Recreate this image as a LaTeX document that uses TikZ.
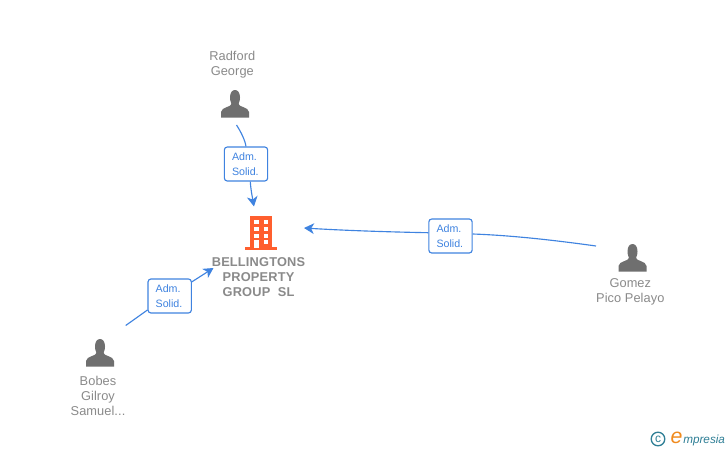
\documentclass[tikz,border=0pt]{standalone}
\usepackage{fontspec}
\setmainfont{Liberation Sans}
\newfontfamily\spaced[LetterSpace=0.6]{Liberation Sans}
\newfontfamily\spacedb[LetterSpace=1.4]{Liberation Sans}
\newfontfamily\logofont{Liberation Sans}
\definecolor{linkblue}{HTML}{3F83E0}
\definecolor{txtgray}{HTML}{8A8A8A}
\definecolor{icongray}{HTML}{6F6F6F}
\definecolor{bldorange}{HTML}{FF5F2E}
\definecolor{logoteal}{HTML}{2F7F96}
\definecolor{logoorange}{HTML}{F08A1D}
\usetikzlibrary{arrows.meta}
\tikzset{
  x=0.75pt,y=-0.75pt,
  edgeline/.style={draw=linkblue,line width=0.85pt},
  arrowline/.style={edgeline,-{Stealth[length=7.5pt,width=8pt,inset=2.2pt]}},
  rolebox/.style={draw=linkblue,fill=white,rounded corners=2.2pt,line width=0.85pt,minimum width=32.5pt,minimum height=25.5pt,inner sep=0pt,text width=21pt,align=left,text=linkblue,font=\fontsize{8}{11.2}\selectfont},
  person/.style={text=txtgray,align=center,inner sep=0pt,font=\fontsize{9.6}{11.3}\selectfont\spaced},
  company/.style={text=txtgray,align=center,inner sep=0pt,font=\fontsize{9.6}{11.4}\selectfont\spacedb\bfseries},
}
\newcommand{\personicon}[2]{%
  \fill[icongray] (#1-5,#2-6.5) .. controls (#1-5,#2-11.5) and (#1-2.7,#2-14) .. (#1,#2-14)
    .. controls (#1+2.7,#2-14) and (#1+5,#2-11.5) .. (#1+5,#2-6.5)
    .. controls (#1+5,#2-3) and (#1+3.8,#2-1.5) .. (#1+3.6,#2+0)
    .. controls (#1+3.6,#2+3) and (#1+13.5,#2+3) .. (#1+14,#2+8)
    -- (#1+14,#2+13.5) -- (#1-14,#2+13.5) -- (#1-14,#2+8)
    .. controls (#1-13.5,#2+3) and (#1-3.6,#2+3) .. (#1-3.6,#2+0)
    .. controls (#1-3.8,#2-1.5) and (#1-5,#2-3) .. (#1-5,#2-6.5) -- cycle;}
\begin{document}
\begin{tikzpicture}
\useasboundingbox (0,0) rectangle (728,450);
\fill[white] (0,0) rectangle (728,450);
% icons
\personicon{235}{104}
\personicon{632.5}{258}
\personicon{100}{353}
% building
\fill[bldorange] (250,216) rectangle (271.7,248);
\fill[bldorange] (245,247.2) rectangle (276.7,250);
\foreach \cx in {254,263.6}{
  \foreach \cy in {220,227.2,233.6}{\fill[white] (\cx,\cy) rectangle +(4.8,4);}}
\fill[white] (254,240) rectangle (258.8,247.5);
\fill[white] (263.6,240) rectangle (268.4,244);
% labels
\node[person] (radford) at (232.3,64.8) {Radford\\George};
\node[person] (gomez) at (630.3,292.2) {Gomez\\Pico Pelayo};
\node[person] (bobes) at (98,396) {Bobes\\Gilroy\\Samuel...};
\node[company] (company) at (258.5,277.3) {BELLINGTONS\\PROPERTY\\GROUP\ \ SL};
% anchors
\coordinate (radfordout) at (236.5,125);
\coordinate (companytop) at (254,206.5);
\coordinate (companyright) at (304,228);
\coordinate (companyleft) at (213.5,268);
\coordinate (gomezout) at (596,246);
\coordinate (bobesout) at (125.7,325.5);
% role boxes
\node[rolebox] (r1) at (246,164) {Adm.\\Solid.};
\node[rolebox] (r2) at (450.5,236) {Adm.\\Solid.};
\node[rolebox] (r3) at (169.7,296) {Adm.\\Solid.};
% connectors
\draw[edgeline] (radfordout) .. controls (241,132) and (245,140) .. (r1.north);
\draw[arrowline] (r1.south) ++(4.3,0) coordinate (r1s) .. controls (250.8,190) and (252.5,198) .. (companytop);
\draw[arrowline] (r2.west) ++(0,-3.3) coordinate (r2w) .. controls (390,232) and (345,230.5) .. (companyright);
\draw[edgeline] (gomezout) .. controls (560,241) and (515,235.5) .. (r2.east |- 0,234);
\draw[edgeline] (bobesout) -- (r3.west |- 0,310);
\draw[arrowline] (r3.east |- 0,281.8) -- (companyleft);
% logo
\node[circle,draw=logoteal,line width=1pt,minimum size=10.2pt,inner sep=0pt,text=logoteal,font=\fontsize{9}{9}\selectfont] (copyr) at (658,439) {c};
\node[text=logoorange,inner sep=0pt,anchor=base,font=\fontsize{16}{16}\selectfont\logofont\itshape] (logoe) at (676.5,443) {e};
\node[text=logoteal,inner sep=0pt,anchor=base west,font=\fontsize{8.8}{8.8}\selectfont\logofont\itshape] (logotext) at (683,443) {mpresia};
\end{tikzpicture}
\end{document}
